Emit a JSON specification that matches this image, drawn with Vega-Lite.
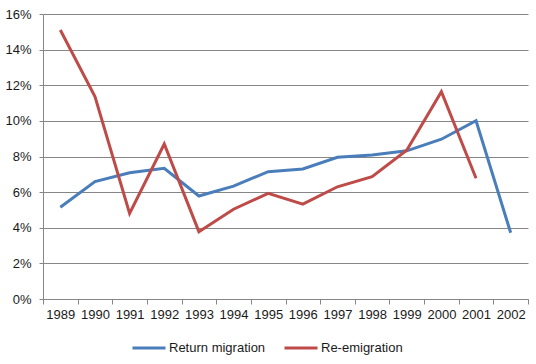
{
  "$schema": "https://vega.github.io/schema/vega-lite/v6.json",
  "width": 485,
  "height": 285,
  "autosize": {"type": "none"},
  "padding": {"left": 43, "top": 14, "right": 8, "bottom": 65},
  "background": "white",
  "config": {
    "font": "Liberation Sans",
    "view": {"stroke": null}
  },
  "data": {
    "values": [
      {"year": "1989", "series": "Return migration", "value": 0.0515},
      {"year": "1990", "series": "Return migration", "value": 0.0659},
      {"year": "1991", "series": "Return migration", "value": 0.0709},
      {"year": "1992", "series": "Return migration", "value": 0.0734},
      {"year": "1993", "series": "Return migration", "value": 0.0578},
      {"year": "1994", "series": "Return migration", "value": 0.0634},
      {"year": "1995", "series": "Return migration", "value": 0.0715},
      {"year": "1996", "series": "Return migration", "value": 0.073},
      {"year": "1997", "series": "Return migration", "value": 0.0796},
      {"year": "1998", "series": "Return migration", "value": 0.0808},
      {"year": "1999", "series": "Return migration", "value": 0.0832},
      {"year": "2000", "series": "Return migration", "value": 0.0897},
      {"year": "2001", "series": "Return migration", "value": 0.1001},
      {"year": "2002", "series": "Return migration", "value": 0.0372},
      {"year": "1989", "series": "Re-emigration", "value": 0.151},
      {"year": "1990", "series": "Re-emigration", "value": 0.1137},
      {"year": "1991", "series": "Re-emigration", "value": 0.0481},
      {"year": "1992", "series": "Re-emigration", "value": 0.087},
      {"year": "1993", "series": "Re-emigration", "value": 0.0378},
      {"year": "1994", "series": "Re-emigration", "value": 0.0504},
      {"year": "1995", "series": "Re-emigration", "value": 0.0593},
      {"year": "1996", "series": "Re-emigration", "value": 0.0533},
      {"year": "1997", "series": "Re-emigration", "value": 0.063},
      {"year": "1998", "series": "Re-emigration", "value": 0.0687},
      {"year": "1999", "series": "Re-emigration", "value": 0.0835},
      {"year": "2000", "series": "Re-emigration", "value": 0.1164},
      {"year": "2001", "series": "Re-emigration", "value": 0.0678}
    ]
  },
  "mark": {"type": "line", "strokeWidth": 3, "strokeJoin": "miter", "strokeCap": "butt"},
  "encoding": {
    "x": {
      "field": "year",
      "type": "ordinal",
      "title": null,
      "scale": {"paddingInner": 0, "paddingOuter": 0},
      "axis": {
        "labelAngle": 0,
        "labelFontSize": 13,
        "labelColor": "#1a1a1a",
        "labelPadding": 4,
        "tickBand": "extent",
        "tickSize": 5,
        "tickColor": "#868686",
        "domainColor": "#868686",
        "grid": false
      }
    },
    "y": {
      "field": "value",
      "type": "quantitative",
      "title": null,
      "scale": {"domain": [0, 0.16], "nice": false},
      "axis": {
        "values": [0, 0.02, 0.04, 0.06, 0.08, 0.1, 0.12, 0.14, 0.16],
        "format": ".0%",
        "labelFontSize": 13,
        "labelColor": "#1a1a1a",
        "labelPadding": 8,
        "tickSize": 4,
        "tickColor": "#868686",
        "domainColor": "#868686",
        "gridColor": "#868686",
        "gridWidth": 1
      }
    },
    "color": {
      "field": "series",
      "type": "nominal",
      "sort": ["Return migration", "Re-emigration"],
      "scale": {"domain": ["Return migration", "Re-emigration"], "range": ["#4a7ebb", "#be4b48"]},
      "legend": {
        "title": null,
        "orient": "none",
        "direction": "horizontal",
        "legendX": 88,
        "legendY": 316,
        "symbolType": "stroke",
        "symbolSize": 1089,
        "symbolStrokeWidth": 3,
        "labelFontSize": 13,
        "labelColor": "#1a1a1a",
        "labelOffset": 2,
        "columnPadding": 12
      }
    }
  }
}
